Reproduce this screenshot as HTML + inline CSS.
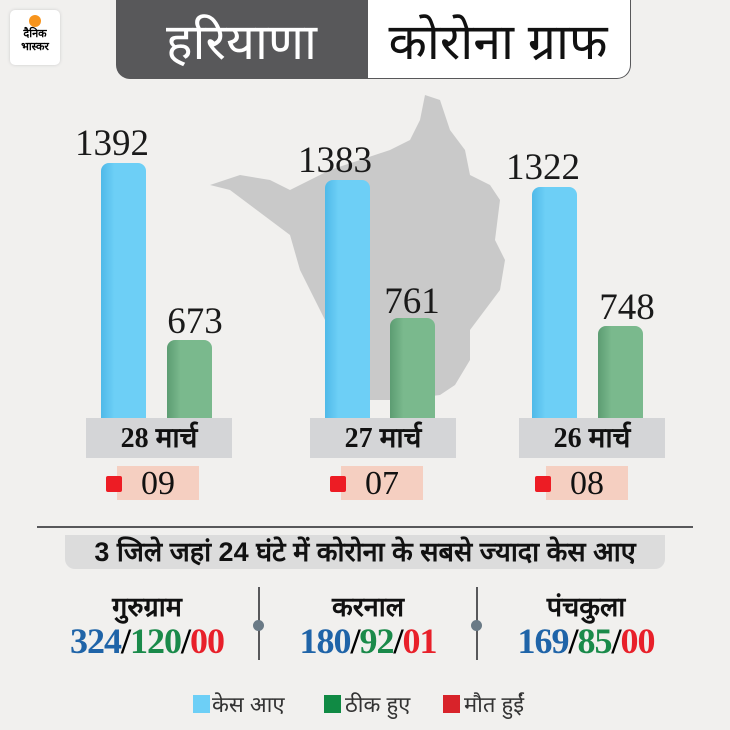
<!DOCTYPE html>
<html><head><meta charset="utf-8"><style>
body{margin:0;width:730px;height:730px;background:#f1f0ee;position:relative;overflow:hidden;font-family:"Liberation Serif",serif}
.a{position:absolute}
.t{position:absolute;text-align:center;white-space:nowrap}
.bb{position:absolute;background:linear-gradient(90deg,#4fb9e8,#6dcff6 30%);border-radius:8px 8px 0 0}
.gb{position:absolute;background:linear-gradient(90deg,#5c9c72,#7ab98d 30%);border-radius:8px 8px 0 0}
.lb{position:absolute;background:#d4d5d7;height:40px;top:418px;width:146px;font-weight:bold;font-size:28px;line-height:42px;text-align:center;color:#111}
.pk{position:absolute;background:#f5cfc1;top:466px;height:34px;width:82px;font-size:34px;line-height:36px;text-align:center;color:#111}
.rd{position:absolute;background:#ed1c24;top:476px;width:16px;height:16px;border-radius:2px}
.n{font-size:37px;color:#1a1a1a}
.dn{font-family:"Liberation Sans",sans-serif;font-weight:bold;font-size:27px;color:#111}
.vv{font-weight:bold;font-size:36px;letter-spacing:-1px}
</style></head><body>
<div class="a" style="left:10px;top:10px;width:50px;height:55px;background:#fff;border-radius:5px;box-shadow:0 0 3px #ccc"></div>
<div class="a" style="left:29px;top:15px;width:12px;height:12px;border-radius:50%;background:#f7941d"></div>
<div class="t" style="left:10px;top:28px;width:50px;font-size:11px;font-weight:bold;line-height:13px;font-family:'Liberation Sans',sans-serif">दैनिक<br>भास्कर</div>
<div class="a" style="left:116px;top:0;width:251px;height:79px;background:#58585a;border-radius:0 0 0 14px"></div>
<div class="a" style="left:367px;top:0;width:262px;height:78px;background:#fff;border:1px solid #58585a;border-top:none;border-radius:0 0 14px 0"></div>
<div class="t" style="left:116px;top:6px;width:251px;font-size:50px;color:#fff;font-family:'Liberation Sans',sans-serif">हरियाणा</div>
<div class="t" style="left:367px;top:6px;width:262px;font-size:50px;color:#111;font-family:'Liberation Sans',sans-serif">कोरोना ग्राफ</div>
<svg class="a" style="left:0;top:0" width="730" height="730"><path d="M425 95 L440 100 L450 130 L465 150 L470 175 L490 185 L500 200 L495 240 L505 260 L500 290 L485 310 L470 330 L470 360 L455 385 L440 395 L400 400 L370 400 L360 380 L345 350 L330 330 L315 300 L300 270 L290 235 L270 220 L250 205 L230 190 L210 185 L240 175 L270 180 L290 190 L310 180 L330 170 L360 160 L390 150 L410 140 L420 120 Z" fill="#c9c9c9"/></svg>
<div class="bb" style="left:101px;top:163px;width:45px;height:255px"></div>
<div class="gb" style="left:167px;top:340px;width:45px;height:78px"></div>
<div class="bb" style="left:325px;top:180px;width:45px;height:238px"></div>
<div class="gb" style="left:390px;top:318px;width:45px;height:100px"></div>
<div class="bb" style="left:532px;top:187px;width:45px;height:231px"></div>
<div class="gb" style="left:598px;top:326px;width:45px;height:92px"></div>
<div class="t n" style="left:62px;top:122px;width:100px">1392</div>
<div class="t n" style="left:145px;top:300px;width:100px">673</div>
<div class="t n" style="left:285px;top:139px;width:100px">1383</div>
<div class="t n" style="left:362px;top:280px;width:100px">761</div>
<div class="t n" style="left:493px;top:146px;width:100px">1322</div>
<div class="t n" style="left:577px;top:286px;width:100px">748</div>
<div class="lb" style="left:86px">28 मार्च</div>
<div class="lb" style="left:310px">27 मार्च</div>
<div class="lb" style="left:519px">26 मार्च</div>
<div class="pk" style="left:117px">09</div><div class="rd" style="left:106px"></div>
<div class="pk" style="left:341px">07</div><div class="rd" style="left:330px"></div>
<div class="pk" style="left:546px">08</div><div class="rd" style="left:535px"></div>
<div class="a" style="left:37px;top:526px;width:656px;height:2px;background:#58585a"></div>
<div class="a" style="left:65px;top:535px;width:600px;height:34px;background:#dcdcdc;border-radius:0 0 10px 10px"></div>
<div class="t" style="left:65px;top:534px;width:600px;font-size:27px;font-weight:bold;line-height:36px;color:#111;font-family:'Liberation Sans',sans-serif">3 जिले जहां 24 घंटे में कोरोना के सबसे ज्यादा केस आए</div>
<div class="a" style="left:258px;top:587px;width:2px;height:73px;background:#58585a"></div>
<div class="a" style="left:476px;top:587px;width:2px;height:73px;background:#58585a"></div>
<div class="a" style="left:253px;top:620px;width:11px;height:11px;border-radius:50%;background:#6a7a86"></div>
<div class="a" style="left:471px;top:620px;width:11px;height:11px;border-radius:50%;background:#6a7a86"></div>
<div class="t dn" style="left:47px;top:587px;width:200px">गुरुग्राम</div>
<div class="t dn" style="left:268px;top:587px;width:200px">करनाल</div>
<div class="t dn" style="left:486px;top:587px;width:200px">पंचकुला</div>
<div class="t vv" style="left:47px;top:620px;width:200px"><span style="color:#1f64a8">324</span>/<span style="color:#1a8a4a">120</span>/<span style="color:#e8202a">00</span></div>
<div class="t vv" style="left:268px;top:620px;width:200px"><span style="color:#1f64a8">180</span>/<span style="color:#1a8a4a">92</span>/<span style="color:#e8202a">01</span></div>
<div class="t vv" style="left:486px;top:620px;width:200px"><span style="color:#1f64a8">169</span>/<span style="color:#1a8a4a">85</span>/<span style="color:#e8202a">00</span></div>
<div class="a" style="left:193px;top:695px;width:17px;height:18px;background:#6dcff6"></div>
<div class="a" style="left:324px;top:695px;width:17px;height:18px;background:#108a44"></div>
<div class="a" style="left:443px;top:695px;width:17px;height:18px;background:#d8232a"></div>
<div class="t" style="left:212px;top:689px;font-size:22px;color:#333;font-family:'Liberation Sans',sans-serif">केस आए</div>
<div class="t" style="left:345px;top:689px;font-size:22px;color:#333;font-family:'Liberation Sans',sans-serif">ठीक हुए</div>
<div class="t" style="left:464px;top:689px;font-size:22px;color:#333;font-family:'Liberation Sans',sans-serif">मौत हुईं</div>
</body></html>
